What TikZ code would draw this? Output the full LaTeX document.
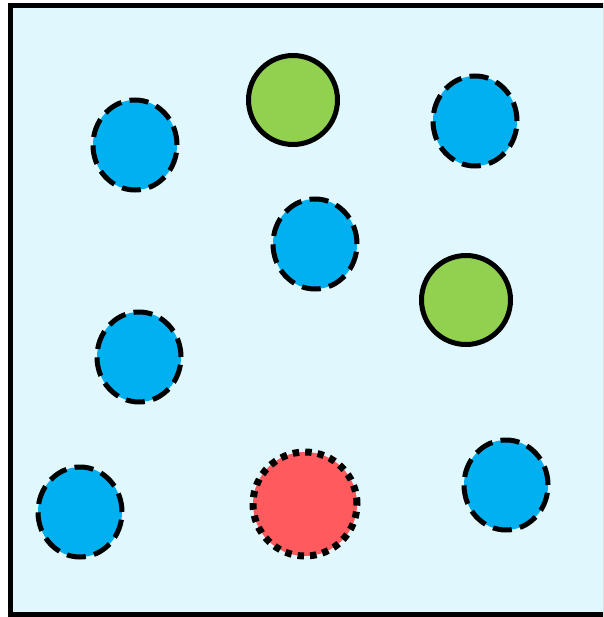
\documentclass[tikz,border=0pt]{standalone}
\usepackage{tikz}
\usetikzlibrary{shapes.geometric}
\definecolor{tankFill}{HTML}{E0F8FD}
\definecolor{blueBall}{HTML}{00B0F0}
\definecolor{greenBall}{HTML}{92D050}
\definecolor{redBall}{HTML}{FF5B5F}

\begin{document}
\begin{tikzpicture}[x=1pt, y=-1pt,
    blueball/.style={ellipse, inner sep=0pt, minimum width=84pt, minimum height=90pt, fill=blueBall, draw=black, line width=5pt, dash pattern=on 19pt off 8.4pt},
    greenball/.style={circle, inner sep=0pt, minimum size=89pt, fill=greenBall, draw=black, line width=5pt},
    redball/.style={circle, inner sep=0pt, minimum size=104pt, fill=redBall, draw=black, line width=7pt, dash pattern=on 6.5pt off 6pt}]
    \useasboundingbox (0,0) rectangle (603,617);
    \begin{scope}
        \clip (0,0) rectangle (603,617);
        \draw[line width=5pt, fill=tankFill] (10.5,5.5) rectangle (605,614.5);
    \end{scope}
    % balls
    \node[greenball] (g1) at (293,100) {};
    \node[greenball] (g2) at (466,300) {};
    \node[blueball] (b1) at (135,145) {};
    \node[blueball] (b2) at (475,121) {};
    \node[blueball] (b3) at (315,244) {};
    \node[blueball] (b4) at (139,357) {};
    \node[blueball] (b5) at (80,512) {};
    \node[blueball] (b6) at (506,485) {};
    \node[redball] (r1) at (305,504) {};
\end{tikzpicture}
\end{document}
